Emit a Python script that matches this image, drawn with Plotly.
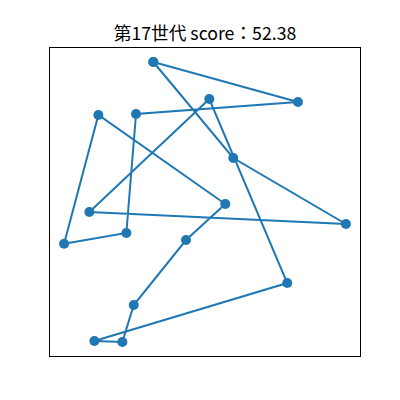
import plotly.graph_objects as go

# route order (closed loop), coordinates in plot units
xs = [103.3, 248.0, 86.0, 76.3, 14.0, 48.3, 175.3, 136.0, 83.7, 72.3, 44.3, 237.3, 159.3, 39.3, 296.0, 183.3]
ys = [293.7, 253.7, 241.7, 122.7, 112.0, 240.7, 151.7, 115.7, 50.7, 13.7, 14.7, 72.7, 256.7, 143.7, 131.7, 197.7]
title_text = "第17世代 score：52.38"

px = xs + xs[:1]
py = ys + ys[:1]

def pad(v):
    lo, hi = min(v), max(v)
    s = (hi - lo) * 0.05
    return [lo - s, hi + s]

fig = go.Figure(go.Scatter(
    x=px, y=py, mode="lines+markers",
    line=dict(color="#1f77b4", width=2),
    marker=dict(color="#1f77b4", size=10),
    hoverinfo="skip",
))

ax = dict(showgrid=False, zeroline=False, showticklabels=False, ticks="",
          showline=True, linecolor="black", linewidth=1, mirror=True)
fig.update_layout(
    width=400, height=400,
    margin=dict(l=50, r=40, t=48, b=44),
    paper_bgcolor="white", plot_bgcolor="white",
    showlegend=False,
    xaxis=dict(range=pad(xs), **ax),
    yaxis=dict(range=pad(ys), **ax),
    title=dict(text=title_text, x=0.5, xanchor="center", xref="paper",
               y=1 - 34 / 400, yanchor="middle", yref="container",
               font=dict(family="Noto Sans CJK JP", size=17.7, color="black")),
)
fig.write_html("out.html")
